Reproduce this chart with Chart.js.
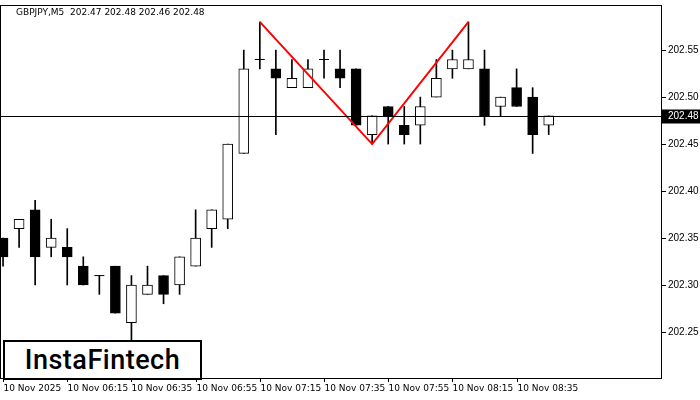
<!DOCTYPE html>
<html><head><meta charset="utf-8">
<script src="https://cdn.jsdelivr.net/npm/chart.js@4"></script>
<style>
body{margin:0;background:#fff;font-family:"DejaVu Sans",sans-serif}
#wrap{position:relative;width:700px;height:400px}
#logo{position:absolute;left:3px;top:340px;width:195px;height:36px;border:2px solid #000;background:#fff;font:500 27px Roboto,sans-serif;line-height:36px;text-align:center;letter-spacing:0.5px}
</style></head><body>
<div id="wrap"><canvas id="c" width="700" height="400"></canvas><div id="logo">InstaFintech</div></div>
<script>
const times = ["10 Nov 2025","","","","10 Nov 06:15","","","","10 Nov 06:35","","","","10 Nov 06:55","","","","10 Nov 07:15","","","","10 Nov 07:35","","","","10 Nov 07:55","","","","10 Nov 08:15","","","","10 Nov 08:35","",""];
const opens  = [202.35,202.36,202.38,202.34,202.34,202.32,202.31,202.32,202.26,202.29,202.31,202.30,202.32,202.36,202.37,202.44,202.54,202.53,202.51,202.51,202.54,202.53,202.53,202.46,202.49,202.47,202.47,202.50,202.53,202.53,202.53,202.49,202.51,202.50,202.47];
const highs  = [202.35,202.37,202.39,202.37,202.36,202.33,202.31,202.32,202.31,202.32,202.31,202.33,202.38,202.38,202.45,202.55,202.58,202.55,202.54,202.54,202.55,202.55,202.53,202.48,202.49,202.49,202.50,202.54,202.55,202.58,202.55,202.50,202.53,202.51,202.48];
const lows   = [202.32,202.34,202.30,202.33,202.30,202.30,202.29,202.27,202.24,202.29,202.28,202.29,202.32,202.34,202.36,202.44,202.53,202.46,202.51,202.51,202.52,202.51,202.47,202.45,202.45,202.45,202.45,202.50,202.52,202.53,202.47,202.48,202.49,202.44,202.46];
const closes = [202.33,202.37,202.33,202.35,202.33,202.30,202.31,202.27,202.30,202.30,202.29,202.33,202.35,202.38,202.45,202.53,202.54,202.52,202.52,202.53,202.54,202.52,202.47,202.48,202.48,202.46,202.49,202.52,202.54,202.54,202.48,202.50,202.49,202.46,202.48];
const priceTicks = [202.25, 202.30, 202.35, 202.40, 202.45, 202.50, 202.55];
const timeTicks = [0, 4, 8, 12, 16, 20, 24, 28, 32];
const patternX = [16, 23, 29];
const patternY = [202.58, 202.45, 202.58];
const lastPrice = 202.48;

const wicks = [], bodiesUp = [], bodiesDown = [], dojis = [];
opens.forEach((o, i) => {
  const c = closes[i];
  wicks.push({x: i, y: [lows[i], highs[i]]});
  if (o === c) dojis.push({x: i, y: c});
  else if (c > o) bodiesUp.push({x: i, y: [o, c]});
  else bodiesDown.push({x: i, y: [c, o]});
});

// axes drawn by hand so the plot area is exactly where MT4 puts it
const frame = {
  id: 'frame',
  afterDraw(ch) {
    const {ctx, chartArea: a, scales: {x, y}} = ch;
    ctx.save();
    ctx.strokeStyle = '#000'; ctx.fillStyle = '#000'; ctx.lineWidth = 1;
    ctx.strokeRect(a.left + 0.5, a.top + 0.5, a.right - a.left - 1, a.bottom - a.top);
    ctx.font = '10px "Liberation Sans"'; ctx.textBaseline = 'middle';
    priceTicks.forEach(v => {
      const py = Math.round(y.getPixelForValue(v)) + 0.5;
      ctx.beginPath(); ctx.moveTo(a.right, py); ctx.lineTo(a.right + 4, py); ctx.stroke();
      ctx.fillText(v.toFixed(2), a.right + 6, py);
    });
    ctx.font = '9px "DejaVu Sans"'; ctx.textBaseline = 'top';
    timeTicks.forEach(v => {
      const px = Math.round(x.getPixelForValue(v)) + 0.5;
      ctx.beginPath(); ctx.moveTo(px, a.bottom); ctx.lineTo(px, a.bottom + 4); ctx.stroke();
      ctx.fillText(times[v], px, a.bottom + 6);
    });
    const py = Math.round(y.getPixelForValue(lastPrice)) + 0.5;
    ctx.beginPath(); ctx.moveTo(a.left, py); ctx.lineTo(a.right, py); ctx.stroke();
    ctx.fillRect(a.right, py - 7, 38, 14);
    ctx.fillStyle = '#fff'; ctx.font = '10px "Liberation Sans"'; ctx.textBaseline = 'middle';
    ctx.fillText(lastPrice.toFixed(2), a.right + 6, py);
    ctx.fillStyle = '#000'; ctx.font = '9px "DejaVu Sans"'; ctx.textBaseline = 'top';
    ctx.fillText('GBPJPY,M5  202.47 202.48 202.46 202.48', a.left + 16, a.top + 3);
    ctx.restore();
  }
};

new Chart(document.getElementById('c'), {
  data: {
    datasets: [
      {type: 'bar', data: wicks, backgroundColor: '#000', barThickness: 1, grouped: false, order: 3},
      {type: 'bar', data: bodiesUp, backgroundColor: '#fff', borderColor: '#000', borderWidth: 1, borderSkipped: false, barThickness: 10, grouped: false, order: 2},
      {type: 'bar', data: bodiesDown, backgroundColor: '#000', borderColor: '#000', borderWidth: 1, borderSkipped: false, barThickness: 10, grouped: false, order: 2},
      {type: 'scatter', data: dojis, pointStyle: 'line', pointRadius: 5, borderColor: '#000', borderWidth: 1, order: 1},
      {type: 'line', data: patternX.map((x, i) => ({x, y: patternY[i]})), borderColor: '#f00', borderWidth: 2, pointRadius: 0, order: 0}
    ]
  },
  options: {
    animation: false, responsive: false,
    layout: {autoPadding: false, padding: {top: 5, left: 0, right: 38, bottom: 22}},
    plugins: {legend: {display: false}, tooltip: {enabled: false}},
    scales: {
      x: {type: 'linear', display: false, min: -0.19, max: 41.06, offset: false},
      y: {display: false, min: 202.201, max: 202.598}
    }
  },
  plugins: [frame]
});
</script>
</body></html>
